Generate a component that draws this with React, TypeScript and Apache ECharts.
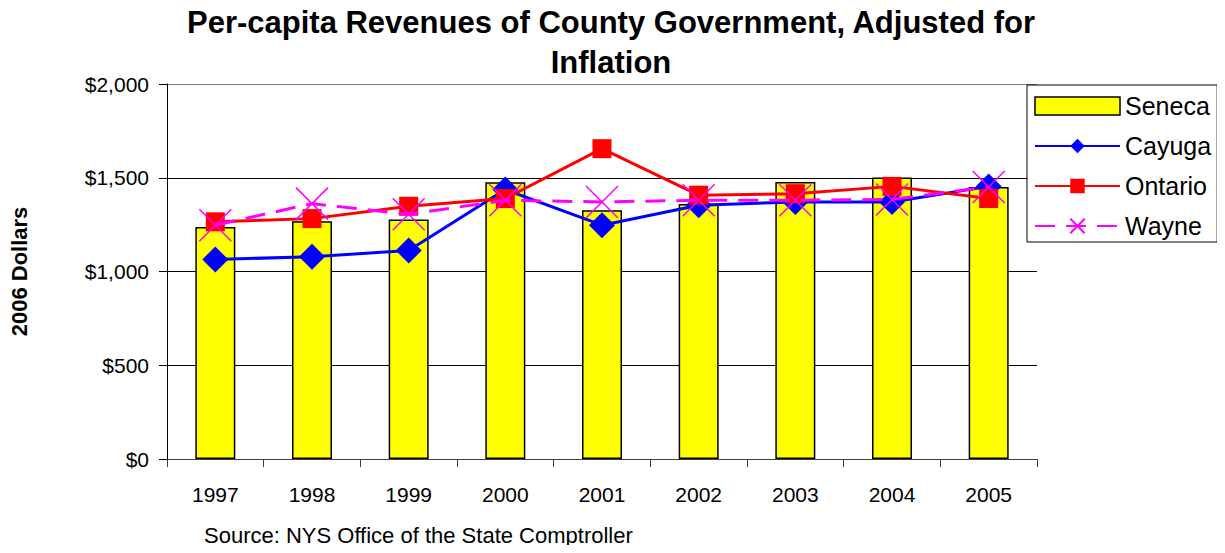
import React, { useEffect, useRef } from "react";
import * as echarts from "echarts";

const years = ["1997", "1998", "1999", "2000", "2001", "2002", "2003", "2004", "2005"];
const seneca = [1238, 1268, 1277, 1476, 1327, 1360, 1477, 1502, 1451];
const cayuga = [1064, 1079, 1112, 1437, 1247, 1353, 1371, 1371, 1454];
const ontario = [1265, 1282, 1348, 1389, 1655, 1407, 1415, 1454, 1389];
const wayne = [1247, 1362, 1305, 1380, 1371, 1380, 1380, 1384, 1451];
const yTicks = [0, 500, 1000, 1500, 2000];

const FONT = "Liberation Sans, Arial, sans-serif";
const XMARK = "path://M0,0L10,10M10,0L0,10";

export default function App() {
  const ref = useRef<HTMLDivElement>(null);
  useEffect(() => {
    const chart = echarts.init(ref.current!, null, { renderer: "svg" });
    chart.setOption({
      animation: false,
      backgroundColor: "#fff",
      title: {
        text: "Per-capita Revenues of County Government, Adjusted for\nInflation",
        left: 611,
        textAlign: "center",
        top: 2,
        padding: 0,
        textStyle: { fontFamily: FONT, fontSize: 31, fontWeight: "bold", color: "#000", lineHeight: 40 },
      },
      grid: {
        left: 161,
        right: 188,
        top: 84,
        bottom: 94,
        show: false,
      },
      legend: {
        orient: "vertical",
        left: 1027,
        top: 85,
        width: 193,
        padding: [8, 6, 3, 7],
        itemGap: 14,
        itemWidth: 85,
        itemHeight: 18,
        borderColor: "#000",
        borderWidth: 1,
        backgroundColor: "#fff",
        textStyle: { fontFamily: FONT, fontSize: 25, color: "#000", lineHeight: 26 },
        data: [
          { name: "Seneca", icon: "rect", itemStyle: { color: "#ffff00", borderColor: "#000", borderWidth: 1.5 } },
          { name: "Cayuga" },
          { name: "Ontario" },
          { name: "Wayne" },
        ],
      },
      xAxis: {
        type: "category",
        data: years,
        axisLine: { lineStyle: { color: "#404040", width: 1 } },
        axisTick: { show: true, alignWithLabel: false, length: 8, lineStyle: { color: "#404040" } },
        axisLabel: { fontFamily: FONT, fontSize: 21, color: "#000", margin: 25 },
      },
      yAxis: {
        type: "value",
        min: yTicks[0],
        max: yTicks[yTicks.length - 1],
        interval: 500,
        name: "2006 Dollars",
        nameLocation: "middle",
        nameGap: 137,
        nameRotate: 90,
        nameTextStyle: { fontFamily: FONT, fontSize: 22, fontWeight: "bold", color: "#000" },
        axisLine: { show: true, lineStyle: { color: "#000", width: 1 } },
        axisTick: { show: true, length: 8, lineStyle: { color: "#000" } },
        splitLine: {
          show: true,
          lineStyle: { color: ["#000", "#000", "#000", "#000", "#808080"], width: 1 },
        },
        axisLabel: {
          fontFamily: FONT,
          fontSize: 21,
          color: "#000",
          margin: 18,
          formatter: (v: number) => "$" + v.toLocaleString("en-US"),
        },
      },
      graphic: [
        {
          type: "text",
          left: 204,
          top: 524,
          style: { text: "Source: NYS Office of the State Comptroller", font: `22px ${FONT}`, fill: "#000" },
        },
      ],
      series: [
        {
          name: "Seneca",
          type: "bar",
          data: seneca,
          barWidth: 40,
          itemStyle: { color: "#ffff00", borderColor: "#000", borderWidth: 1.5 },
          z: 1,
        },
        {
          name: "Cayuga",
          type: "line",
          data: cayuga,
          symbol: "diamond",
          symbolSize: 26,
          lineStyle: { color: "#0000ff", width: 3 },
          itemStyle: { color: "#0000ff" },
          z: 3,
        },
        {
          name: "Ontario",
          type: "line",
          data: ontario,
          symbol: "rect",
          symbolSize: 19,
          lineStyle: { color: "#ff0000", width: 3 },
          itemStyle: { color: "#ff0000" },
          z: 4,
        },
        {
          name: "Wayne",
          type: "line",
          data: wayne,
          symbol: XMARK,
          symbolSize: 32,
          lineStyle: { color: "#ff00ff", width: 3, type: [20, 11] },
          itemStyle: { color: "none", borderColor: "#ff00ff", borderWidth: 1.5 },
          z: 5,
        },
      ],
    });
    return () => chart.dispose();
  }, []);
  return <div ref={ref} style={{ width: 1225, height: 553, margin: -8 }} />;
}
